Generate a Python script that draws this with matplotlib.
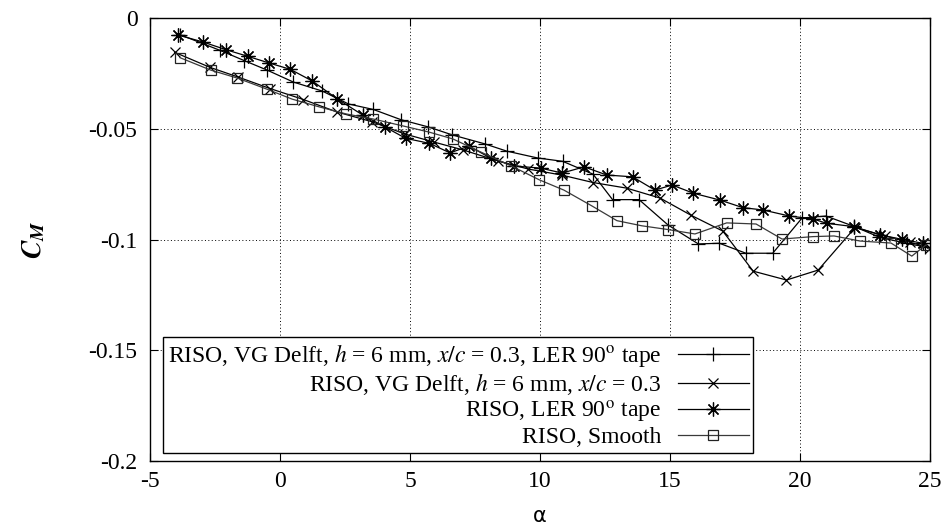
import matplotlib
matplotlib.use('Agg')
import matplotlib.pyplot as plt
from matplotlib.ticker import FuncFormatter

plt.rcParams['font.family'] = ['Liberation Serif', 'DejaVu Serif']
plt.rcParams['mathtext.fontset'] = 'stix'
plt.rcParams['axes.unicode_minus'] = False

# RISO, VG Delft, h = 6 mm, x/c = 0.3, LER 90 tape  (+)
a_vgler = [-3.85, -2.31, -1.38, -0.50, 0.51, 1.63, 2.63, 3.59, 4.65, 5.71, 6.63, 7.87,
           8.72, 9.91, 10.87, 12.04, 12.79, 13.81, 14.93, 16.09, 16.90, 17.92, 18.95,
           20.08, 21.0, 22.08, 23.04, 24.1, 24.81]
cm_vgler = [-0.0075, -0.0146, -0.0192, -0.0235, -0.0289, -0.0330, -0.0388, -0.0413,
            -0.0459, -0.0492, -0.0528, -0.0568, -0.0601, -0.0632, -0.0647, -0.0705,
            -0.0820, -0.0820, -0.0935, -0.1020, -0.1017, -0.1062, -0.1062, -0.0903,
            -0.0894, -0.0941, -0.0989, -0.1018, -0.1033]

# RISO, VG Delft, h = 6 mm, x/c = 0.3  (x)
a_vg = [-4.05, -2.69, -1.60, -0.37, 0.90, 2.18, 3.53, 4.81, 5.92, 7.05, 8.40, 9.55,
        10.83, 12.05, 13.33, 14.62, 15.80, 17.03, 18.20, 19.48, 20.70, 22.12, 23.27,
        24.23, 25.0]
cm_vg = [-0.0155, -0.0223, -0.0267, -0.0319, -0.0368, -0.0424, -0.0468, -0.0524,
         -0.0560, -0.0596, -0.0646, -0.0682, -0.0709, -0.0743, -0.0768, -0.0813,
         -0.0890, -0.0962, -0.1143, -0.1183, -0.1138, -0.0946, -0.0984, -0.1012, -0.1038]

# RISO, LER 90 tape  (*)
a_ler = [-3.92, -2.97, -2.08, -1.24, -0.42, 0.40, 1.25, 2.21, 3.18, 4.04, 4.83, 5.75,
         6.54, 7.27, 8.12, 9.00, 10.04, 10.85, 11.70, 12.57, 13.56, 14.42, 15.08, 15.90,
         16.92, 17.80, 18.59, 19.59, 20.49, 21.03, 22.08, 23.08, 23.91, 24.72]
cm_ler = [-0.0077, -0.0108, -0.0143, -0.0173, -0.0203, -0.0232, -0.0285, -0.0366,
          -0.0438, -0.0492, -0.0543, -0.0566, -0.0609, -0.0578, -0.0634, -0.0668,
          -0.0678, -0.0700, -0.0672, -0.0709, -0.0717, -0.0777, -0.0754, -0.0791,
          -0.0822, -0.0856, -0.0867, -0.0894, -0.0907, -0.0927, -0.0942, -0.0979,
          -0.0999, -0.1017]

# RISO, Smooth  (squares)
a_smooth = [-3.85, -2.67, -1.65, -0.51, 0.46, 1.5, 2.54, 3.58, 4.72, 5.73, 6.65, 7.72,
            8.88, 9.98, 10.92, 11.99, 12.96, 13.91, 14.92, 15.96, 17.18, 18.31, 19.31,
            20.49, 21.31, 22.31, 23.5, 24.3, 24.85]
cm_smooth = [-0.0179, -0.0235, -0.0271, -0.0321, -0.0366, -0.0401, -0.0433, -0.0456,
             -0.0487, -0.0515, -0.0546, -0.0605, -0.0667, -0.0731, -0.0777, -0.0848,
             -0.0915, -0.0938, -0.0955, -0.0975, -0.0925, -0.0930, -0.0998, -0.0987,
             -0.0984, -0.1007, -0.1016, -0.1075, -0.1024]

labels = [r'RISO, VG Delft, $h$ = 6 mm, $x/c$ = 0.3, LER 90$^\mathrm{o}$ tape',
          r'RISO, VG Delft, $h$ = 6 mm, $x/c$ = 0.3',
          r'RISO, LER 90$^\mathrm{o}$ tape',
          'RISO, Smooth']

fig = plt.figure(figsize=(9.53, 5.32), dpi=100)
ax = fig.add_axes([150/953, 1-461/532, 780/953, 443/532])

ax.plot(a_vgler, cm_vgler, color='k', lw=0.9, marker='+', ms=10, mew=0.9, label=labels[0])
ax.plot(a_vg, cm_vg, color='k', lw=0.9, marker='x', ms=7.5, mew=0.9, label=labels[1])
ax.plot(a_ler, cm_ler, color='k', lw=0.9, marker=(8, 2, 0), ms=10, mew=0.9, label=labels[2])
ax.plot(a_smooth, cm_smooth, color='#3a3a3a', lw=0.9, marker='s', ms=7, mew=0.9,
        mfc='none', mec='#222222', label=labels[3])

ax.set_xlim(-5, 25)
ax.set_ylim(-0.2, 0)
ax.set_xticks(range(-5, 26, 5))
ax.set_yticks([-0.2, -0.15, -0.1, -0.05, 0])
ax.yaxis.set_major_formatter(FuncFormatter(lambda v, p: '%g' % round(v, 3)))
ax.grid(True, color='k', linestyle=(0, (1, 2.5)), lw=0.7)
ax.tick_params(direction='in', length=6, width=0.8, top=True, right=True, labelsize=17)
ax.tick_params(axis='y', pad=9)
ax.tick_params(axis='x', pad=7)
for s in ax.spines.values():
    s.set_linewidth(1.0)

ax.set_xlabel('α', family='DejaVu Sans', fontsize=15, labelpad=10)
ax.set_ylabel(r'$\mathbfit{C_M}$', fontsize=20, labelpad=30)

leg = ax.legend(loc='lower left', bbox_to_anchor=(13/780, 8/443), markerfirst=False,
                fontsize=17, handlelength=3.0, labelspacing=0.08, borderpad=0.2,
                fancybox=False, framealpha=1, edgecolor='k', handletextpad=0.7,
                borderaxespad=0)
leg.get_frame().set_linewidth(1.0)

fig.savefig('out.png', dpi=100)
